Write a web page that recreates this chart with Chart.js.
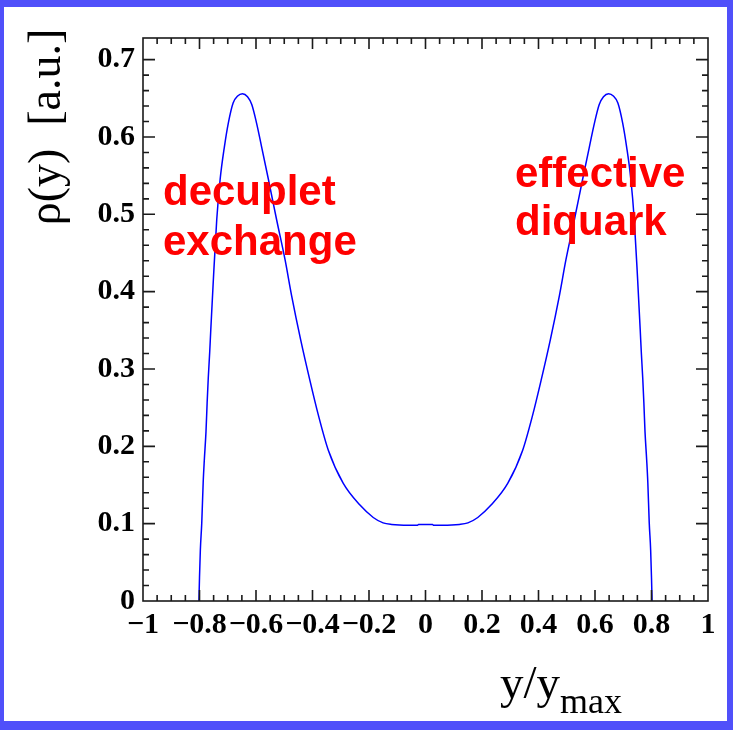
<!DOCTYPE html>
<html>
<head>
<meta charset="utf-8">
<script src="https://cdn.jsdelivr.net/npm/chart.js@4.4.0/dist/chart.umd.min.js"></script>
<style>
  html, body { margin: 0; padding: 0; }
  body { width: 733px; height: 730px; background: #5050fa; position: relative; overflow: hidden; }
  #wrap { position: absolute; left: 4px; top: 7px; width: 723px; height: 714px; background: #fff; }
</style>
</head>
<body>
<div id="wrap"><canvas id="rhoChart"></canvas></div>
<script>
// rho(y), y/y_max on x
const yOverYmax = [
  -0.802, -0.800, -0.797, -0.792, -0.787, -0.783, -0.777, -0.773, -0.769, -0.764, -0.760,
  -0.751, -0.739, -0.727, -0.712, -0.698, -0.681, -0.665, -0.648, -0.630, -0.615, -0.598,
  -0.580, -0.556, -0.527, -0.497, -0.474, -0.442, -0.409, -0.379, -0.344, -0.291, -0.232,
  -0.185, -0.150, -0.120, -0.060, -0.028, -0.025, 0,
  0.025, 0.028, 0.060, 0.120, 0.150, 0.185, 0.232, 0.291, 0.344, 0.379, 0.409, 0.442,
  0.474, 0.497, 0.527, 0.556, 0.580, 0.598, 0.615, 0.630, 0.648, 0.665, 0.681, 0.698,
  0.712, 0.727, 0.739, 0.751, 0.760, 0.764, 0.769, 0.773, 0.777, 0.783, 0.787, 0.792,
  0.797, 0.800, 0.802
];
const rho = [
  0, 0.030, 0.066, 0.101, 0.153, 0.182, 0.219, 0.256, 0.288, 0.321, 0.351,
  0.415, 0.493, 0.545, 0.587, 0.618, 0.644, 0.653, 0.656, 0.652, 0.642, 0.618,
  0.587, 0.545, 0.493, 0.441, 0.395, 0.338, 0.285, 0.240, 0.195, 0.152, 0.124,
  0.108, 0.101, 0.099, 0.098, 0.098, 0.099, 0.099,
  0.099, 0.098, 0.098, 0.099, 0.101, 0.108, 0.124, 0.152, 0.195, 0.240, 0.285, 0.338,
  0.395, 0.441, 0.493, 0.545, 0.587, 0.618, 0.642, 0.652, 0.656, 0.653, 0.644, 0.618,
  0.587, 0.545, 0.493, 0.415, 0.351, 0.321, 0.288, 0.256, 0.219, 0.182, 0.153, 0.101,
  0.066, 0.030, 0
];

const xTickValues = [-1, -0.8, -0.6, -0.4, -0.2, 0, 0.2, 0.4, 0.6, 0.8, 1];
const xTickLabels = ['−1', '−0.8', '−0.6', '−0.4', '−0.2', '0', '0.2', '0.4', '0.6', '0.8', '1'];
const yTickValues = [0, 0.1, 0.2, 0.3, 0.4, 0.5, 0.6, 0.7];
const yTickLabels = ['0', '0.1', '0.2', '0.3', '0.4', '0.5', '0.6', '0.7'];

const leftNote = ['decuplet', 'exchange'];
const rightNote = ['effective', 'diquark'];

function majorIndex(v, vals) {
  return vals.findIndex(m => Math.abs(m - v) < 1e-6);
}
function labelFor(v, vals, labels) {
  const i = majorIndex(v, vals);
  return i < 0 ? '' : labels[i];
}

// ROOT style frame with inward ticks on all four sides, plus titles and notes
const frameAndText = {
  id: 'frameAndText',
  afterDraw(chart) {
    const { ctx, chartArea: a, scales: { x, y } } = chart;
    ctx.save();
    ctx.strokeStyle = '#1a1a1a';
    ctx.lineWidth = 1.6;
    ctx.strokeRect(a.left, a.top, a.right - a.left, a.bottom - a.top);

    ctx.beginPath();
    x.ticks.forEach(t => {
      if (t.value <= x.min || t.value >= x.max) return;
      const px = x.getPixelForValue(t.value);
      const len = majorIndex(t.value, xTickValues) >= 0 ? 11 : 6;
      ctx.moveTo(px, a.bottom); ctx.lineTo(px, a.bottom - len);
      ctx.moveTo(px, a.top); ctx.lineTo(px, a.top + len);
    });
    y.ticks.forEach(t => {
      if (t.value <= y.min || t.value >= y.max) return;
      const py = y.getPixelForValue(t.value);
      const len = majorIndex(t.value, yTickValues) >= 0 ? 12 : 6;
      ctx.moveTo(a.left, py); ctx.lineTo(a.left + len, py);
      ctx.moveTo(a.right, py); ctx.lineTo(a.right - len, py);
    });
    ctx.stroke();

    // y title
    ctx.fillStyle = '#000';
    ctx.save();
    ctx.translate(56, 120);
    ctx.rotate(-Math.PI / 2);
    ctx.font = '46px "Liberation Serif"';
    ctx.textAlign = 'center';
    ctx.textBaseline = 'alphabetic';
    ctx.fillText('ρ(y)  [a.u.]', 0, 0);
    ctx.restore();

    // x title with subscript
    ctx.textAlign = 'left';
    ctx.textBaseline = 'alphabetic';
    ctx.font = '47px "Liberation Serif"';
    ctx.fillText('y/y', 496, 691);
    const w = ctx.measureText('y/y').width;
    ctx.font = '36px "Liberation Serif"';
    ctx.fillText('max', 496 + w, 706);

    // red notes
    ctx.fillStyle = '#ff0000';
    ctx.font = 'bold 42px "Liberation Sans"';
    ctx.fillText(leftNote[0], 159, 198);
    ctx.fillText(leftNote[1], 159, 248);
    ctx.fillText(rightNote[0], 511, 180);
    ctx.fillText(rightNote[1], 511, 228);
    ctx.restore();
  }
};

const tickFont = { family: 'Liberation Serif', size: 30, weight: 'bold' };

new Chart(document.getElementById('rhoChart'), {
  type: 'scatter',
  data: {
    datasets: [{
      data: yOverYmax.map((v, i) => ({ x: v, y: rho[i] })),
      showLine: true,
      borderColor: '#0000ff',
      borderWidth: 1.5,
      pointRadius: 0,
      cubicInterpolationMode: 'monotone',
      fill: false
    }]
  },
  options: {
    responsive: true,
    maintainAspectRatio: false,
    animation: false,
    layout: { padding: { left: 0, right: 19, top: 31, bottom: 0 } },
    plugins: { legend: { display: false }, tooltip: { enabled: false } },
    scales: {
      x: {
        type: 'linear',
        min: -1,
        max: 1,
        border: { display: false },
        grid: { display: false, drawTicks: false },
        ticks: {
          stepSize: 0.05,
          autoSkip: false,
          maxRotation: 0,
          padding: 6,
          color: '#000',
          font: tickFont,
          callback: v => labelFor(v, xTickValues, xTickLabels)
        },
        afterFit: s => { s.height = 120; }
      },
      y: {
        type: 'linear',
        min: 0,
        max: 0.728,
        border: { display: false },
        grid: { display: false, drawTicks: false },
        ticks: {
          stepSize: 0.02,
          autoSkip: false,
          padding: 8,
          color: '#000',
          font: tickFont,
          callback: v => labelFor(v, yTickValues, yTickLabels)
        },
        afterFit: s => { s.width = 139; }
      }
    }
  },
  plugins: [frameAndText]
});
</script>
</body>
</html>
